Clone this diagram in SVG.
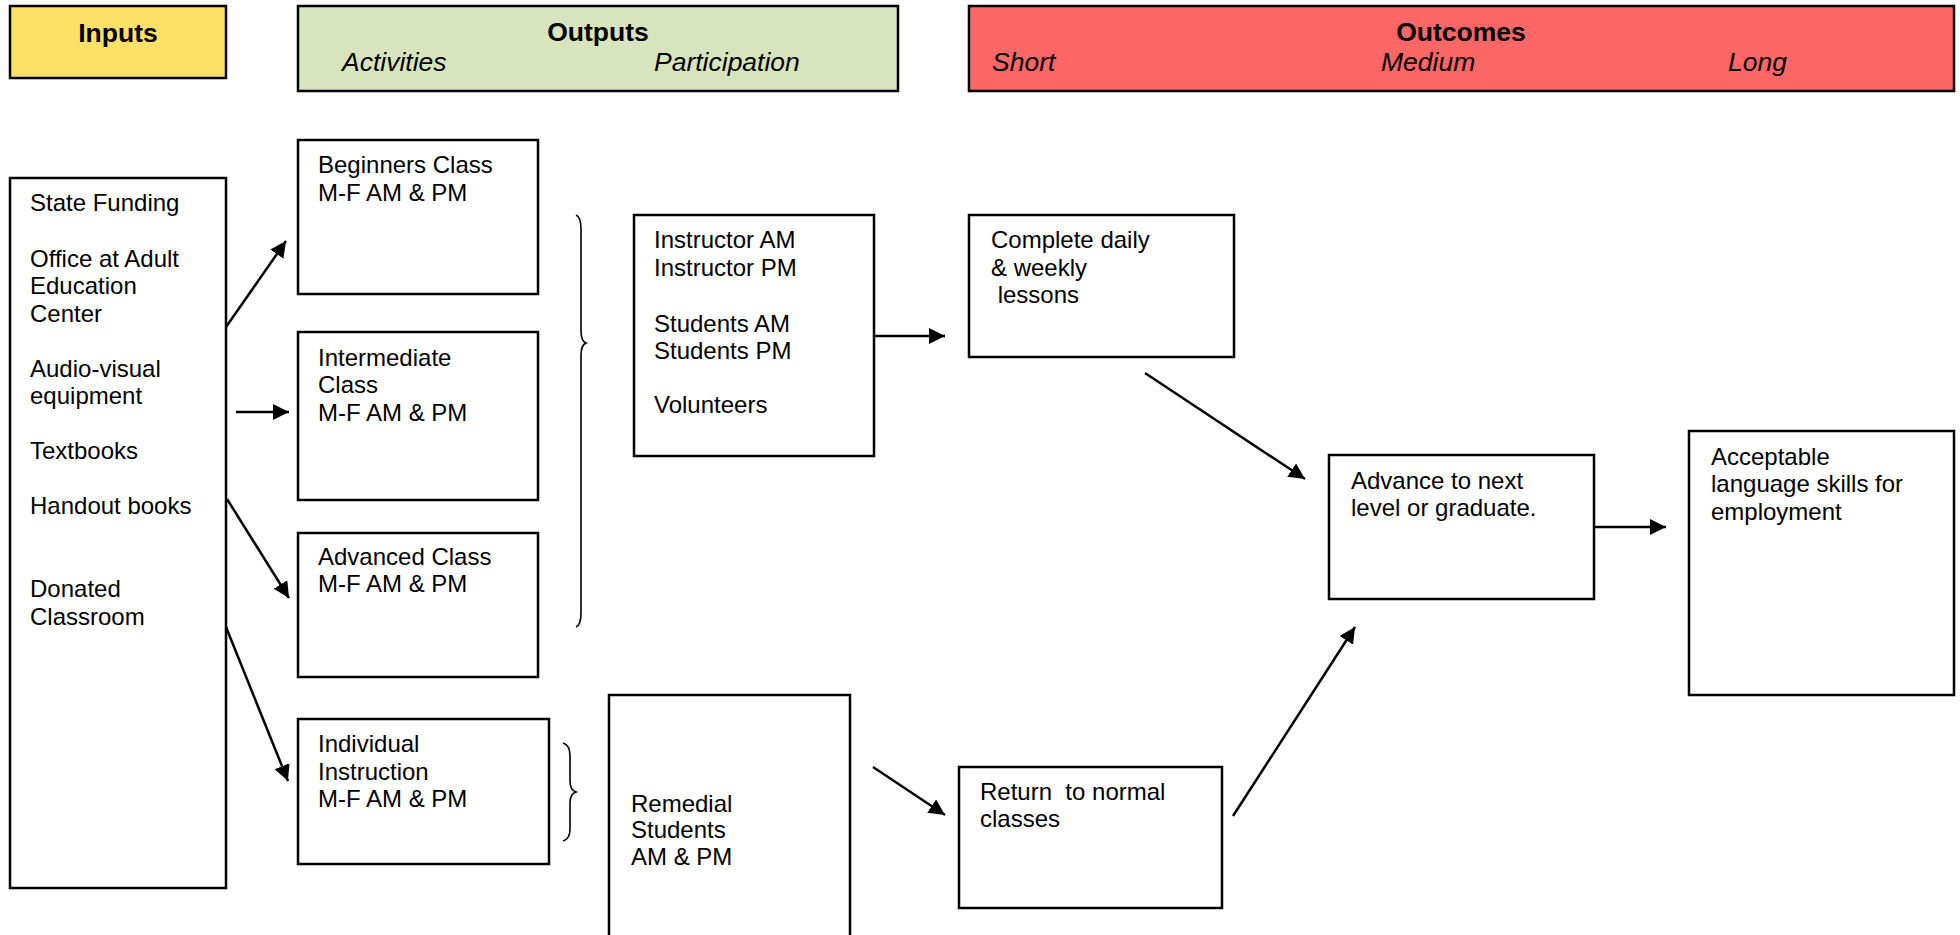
<svg xmlns="http://www.w3.org/2000/svg" width="1960" height="935" viewBox="0 0 1960 935">
<style>
.box{fill:#fff;stroke:#000;stroke-width:2.5}
.t{font-family:"Liberation Sans",Arial,sans-serif;font-size:24px;fill:#000}
.h{font-family:"Liberation Sans",Arial,sans-serif;font-size:26.5px;font-weight:bold;fill:#000}
.s{font-family:"Liberation Sans",Arial,sans-serif;font-size:26.5px;font-style:italic;fill:#000}
.c{fill:none;stroke:#000;stroke-width:2.5}
.br{fill:none;stroke:#000;stroke-width:1.6}
</style>
<defs>
<marker id="ah" markerUnits="userSpaceOnUse" markerWidth="18" markerHeight="18" refX="16" refY="8" orient="auto">
<path d="M0,0 L16,8 L0,16 z" fill="#000"/>
</marker>
</defs>
<rect width="1960" height="935" fill="#fff"/>
<g id="header-inputs">
<rect x="10" y="6" width="216" height="72" fill="#FFE066" stroke="#000" stroke-width="2.5"/>
<text class="h" x="118" y="42" text-anchor="middle">Inputs</text>
</g>
<g id="header-outputs">
<rect x="298" y="6" width="600" height="85" fill="#D7E4BD" stroke="#000" stroke-width="2.5"/>
<text class="h" x="598" y="41" text-anchor="middle">Outputs</text>
<text class="s" x="342" y="71">Activities</text>
<text class="s" x="654" y="71">Participation</text>
</g>
<g id="header-outcomes">
<rect x="969" y="6" width="985" height="85" fill="#FF6666" stroke="#000" stroke-width="2.5"/>
<text class="h" x="1461" y="41" text-anchor="middle">Outcomes</text>
<text class="s" x="992" y="71">Short</text>
<text class="s" x="1381" y="71">Medium</text>
<text class="s" x="1728" y="71">Long</text>
</g>
<g id="inputs">
<rect class="box" x="10" y="178" width="216" height="710"/>
<text class="t" x="30" y="211">State Funding</text>
<text class="t" x="30" y="267">Office at Adult</text>
<text class="t" x="30" y="294">Education</text>
<text class="t" x="30" y="322">Center</text>
<text class="t" x="30" y="377">Audio-visual</text>
<text class="t" x="30" y="404">equipment</text>
<text class="t" x="30" y="459">Textbooks</text>
<text class="t" x="30" y="514">Handout books</text>
<text class="t" x="30" y="597">Donated</text>
<text class="t" x="30" y="625">Classroom</text>
</g>
<g id="beginners">
<rect class="box" x="298" y="140" width="240" height="154"/>
<text class="t" x="318" y="173">Beginners Class</text>
<text class="t" x="318" y="201">M-F AM &amp; PM</text>
</g>
<g id="intermediate">
<rect class="box" x="298" y="332" width="240" height="168"/>
<text class="t" x="318" y="366">Intermediate</text>
<text class="t" x="318" y="393">Class</text>
<text class="t" x="318" y="421">M-F AM &amp; PM</text>
</g>
<g id="advanced">
<rect class="box" x="298" y="533" width="240" height="144"/>
<text class="t" x="318" y="565">Advanced Class</text>
<text class="t" x="318" y="592">M-F AM &amp; PM</text>
</g>
<g id="individual">
<rect class="box" x="298" y="719" width="251" height="145"/>
<text class="t" x="318" y="752">Individual</text>
<text class="t" x="318" y="780">Instruction</text>
<text class="t" x="318" y="807">M-F AM &amp; PM</text>
</g>
<g id="participation">
<rect class="box" x="634" y="215" width="240" height="241"/>
<text class="t" x="654" y="248">Instructor AM</text>
<text class="t" x="654" y="276">Instructor PM</text>
<text class="t" x="654" y="332">Students AM</text>
<text class="t" x="654" y="359">Students PM</text>
<text class="t" x="654" y="413">Volunteers</text>
</g>
<g id="remedial">
<rect class="box" x="609" y="695" width="241" height="250"/>
<text class="t" x="631" y="812">Remedial</text>
<text class="t" x="631" y="838">Students</text>
<text class="t" x="631" y="865">AM &amp; PM</text>
</g>
<g id="complete">
<rect class="box" x="969" y="215" width="265" height="142"/>
<text class="t" x="991" y="248">Complete daily</text>
<text class="t" x="991" y="276">&amp; weekly</text>
<text class="t" x="991" y="303" xml:space="preserve"> lessons</text>
</g>
<g id="return">
<rect class="box" x="959" y="767" width="263" height="141"/>
<text class="t" x="980" y="800" xml:space="preserve">Return  to normal</text>
<text class="t" x="980" y="827">classes</text>
</g>
<g id="advance">
<rect class="box" x="1329" y="455" width="265" height="144"/>
<text class="t" x="1351" y="489">Advance to next</text>
<text class="t" x="1351" y="516">level or graduate.</text>
</g>
<g id="acceptable">
<rect class="box" x="1689" y="431" width="265" height="264"/>
<text class="t" x="1711" y="465">Acceptable</text>
<text class="t" x="1711" y="492">language skills for</text>
<text class="t" x="1711" y="520">employment</text>
</g>
<g id="connectors">
<line class="c" x1="226" y1="327" x2="286" y2="241" marker-end="url(#ah)"/>
<line class="c" x1="236" y1="412" x2="289" y2="412" marker-end="url(#ah)"/>
<line class="c" x1="227" y1="499" x2="289" y2="598" marker-end="url(#ah)"/>
<line class="c" x1="226" y1="627" x2="288" y2="781" marker-end="url(#ah)"/>
<path class="br" d="M576,215 Q581,217 581,229 L581,331 Q581,341 586,343 Q581,345 581,355 L581,613 Q581,625 576,627"/>
<path class="br" d="M563,743 Q570,745 570,756 L570,781 Q570,790 576,792 Q570,794 570,803 L570,829 Q570,839 563,841"/>
<line class="c" x1="874" y1="336" x2="945" y2="336" marker-end="url(#ah)"/>
<line class="c" x1="873" y1="767" x2="945" y2="815" marker-end="url(#ah)"/>
<line class="c" x1="1145" y1="373" x2="1305" y2="479" marker-end="url(#ah)"/>
<line class="c" x1="1233" y1="816" x2="1355" y2="627" marker-end="url(#ah)"/>
<line class="c" x1="1594" y1="527" x2="1666" y2="527" marker-end="url(#ah)"/>
</g>
</svg>
